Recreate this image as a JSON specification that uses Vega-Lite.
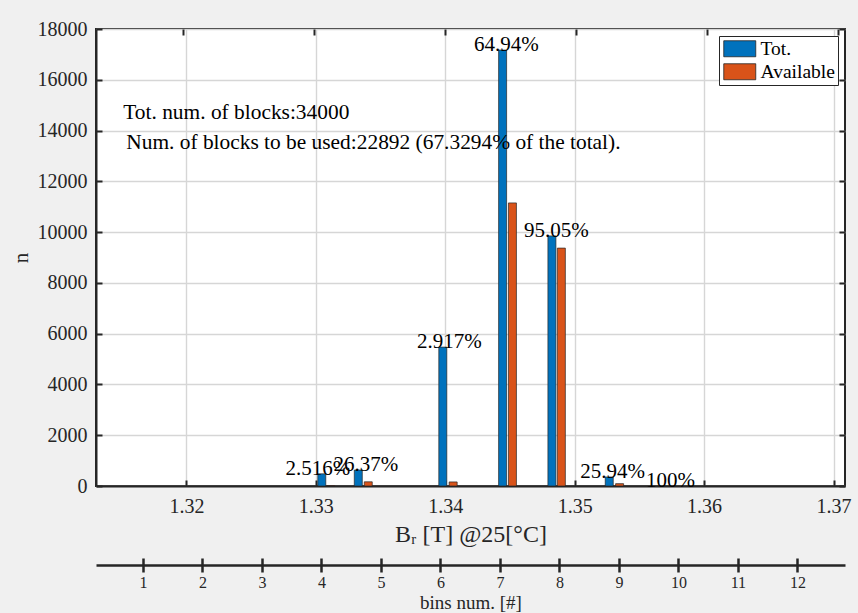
{
  "$schema": "https://vega.github.io/schema/vega-lite/v6.json",
  "width": 749,
  "height": 457,
  "autosize": {"type": "none"},
  "padding": {"left": 96, "top": 29, "right": 13, "bottom": 127},
  "background": "#f0f0f0",
  "config": {
    "font": "Liberation Serif",
    "view": {"fill": "white", "stroke": "#262626", "strokeWidth": 2},
    "axis": {
      "labelFont": "Liberation Serif",
      "titleFont": "Liberation Serif",
      "labelColor": "#262626",
      "titleColor": "#262626",
      "tickColor": "#262626",
      "domainColor": "#262626",
      "titleFontWeight": "normal",
      "gridColor": "#d6d6d6",
      "gridWidth": 1.4
    },
    "legend": {"labelFont": "Liberation Serif"}
  },
  "datasets": {
    "bars": [
      {"B": 1.33046, "series": "Tot.", "n": 480},
      {"B": 1.33328, "series": "Tot.", "n": 630},
      {"B": 1.33981, "series": "Tot.", "n": 5470},
      {"B": 1.34443, "series": "Tot.", "n": 17170},
      {"B": 1.34824, "series": "Tot.", "n": 9850},
      {"B": 1.35267, "series": "Tot.", "n": 355},
      {"B": 1.33115, "series": "Available", "n": 12},
      {"B": 1.33405, "series": "Available", "n": 165},
      {"B": 1.34061, "series": "Available", "n": 160},
      {"B": 1.34519, "series": "Available", "n": 11150},
      {"B": 1.34897, "series": "Available", "n": 9370},
      {"B": 1.35347, "series": "Available", "n": 92}
    ],
    "labels": [
      {"B": 1.33015, "n": 480, "label": "2.516%"},
      {"B": 1.33386, "n": 630, "label": "26.37%"},
      {"B": 1.34031, "n": 5470, "label": "2.917%"},
      {"B": 1.34473, "n": 17170, "label": "64.94%"},
      {"B": 1.34859, "n": 9850, "label": "95.05%"},
      {"B": 1.35294, "n": 355, "label": "25.94%"},
      {"B": 1.3574, "n": 0, "label": "100%"}
    ],
    "notes": [
      {"B": 1.31512, "n": 14691, "text": "Tot. num. of blocks:34000"},
      {"B": 1.31535, "n": 13510, "text": "Num. of blocks to be used:22892 (67.3294% of the total)."}
    ],
    "bins": [
      {"bin": 1}, {"bin": 2}, {"bin": 3}, {"bin": 4}, {"bin": 5}, {"bin": 6},
      {"bin": 7}, {"bin": 8}, {"bin": 9}, {"bin": 10}, {"bin": 11}, {"bin": 12}
    ],
    "frame": [{"B": 1.34, "n": 0}]
  },
  "layer": [
    {
      "layer": [
        {
          "data": {"name": "bars"},
          "mark": {"type": "bar", "width": 8, "stroke": "#262626", "strokeWidth": 0.7},
          "encoding": {
            "x": {
              "field": "B", "type": "quantitative",
              "scale": {"domain": [1.3134, 1.3705], "nice": false, "zero": false},
              "axis": {
                "orient": "bottom",
                "values": [1.32, 1.33, 1.34, 1.35, 1.36, 1.37],
                "format": ".2f",
                "labelFontSize": 20,
                "tickSize": -6,
                "tickWidth": 2,
                "domainWidth": 2,
                "labelPadding": 16,
                "grid": true,
                "title": "Bᵣ [T] @25[°C]",
                "titleFontSize": 24,
                "titlePadding": 6
              }
            },
            "y": {
              "field": "n", "type": "quantitative",
              "scale": {"domain": [0, 18000], "nice": false},
              "axis": {
                "orient": "left",
                "values": [0, 2000, 4000, 6000, 8000, 10000, 12000, 14000, 16000, 18000],
                "format": "d",
                "labelFontSize": 20,
                "tickSize": -6,
                "tickWidth": 2,
                "domainWidth": 2,
                "labelPadding": 15,
                "grid": true,
                "title": "n",
                "titleFontSize": 21,
                "titlePadding": 6
              }
            },
            "color": {
              "field": "series", "type": "nominal",
              "scale": {"domain": ["Tot.", "Available"], "range": ["#0072BD", "#D95319"]},
              "legend": {
                "title": null,
                "orient": "top-right",
                "offset": 7,
                "fillColor": "white",
                "strokeColor": "#262626",
                "padding": 3,
                "rowPadding": 2,
                "labelFontSize": 19.5,
                "labelColor": "#000000",
                "symbolType": "M-2,-1H2V1H-2Z",
                "symbolSize": 256,
                "symbolStrokeColor": "#262626",
                "symbolStrokeWidth": 0.8,
                "symbolOpacity": 1,
                "symbolOffset": 8,
                "labelOffset": 11
              }
            }
          }
        },
        {
          "data": {"name": "labels"},
          "mark": {"type": "text", "fontSize": 21, "color": "#000000", "baseline": "alphabetic", "align": "center", "dy": 1},
          "encoding": {
            "x": {"field": "B", "type": "quantitative"},
            "y": {"field": "n", "type": "quantitative"},
            "text": {"field": "label"}
          }
        },
        {
          "data": {"name": "notes"},
          "mark": {"type": "text", "fontSize": 21.4, "color": "#000000", "baseline": "middle", "align": "left"},
          "encoding": {
            "x": {"field": "B", "type": "quantitative"},
            "y": {"field": "n", "type": "quantitative"},
            "text": {"field": "text"}
          }
        }
      ]
    },
    {
      "data": {"name": "bins"},
      "mark": {"type": "point", "opacity": 0},
      "encoding": {
        "x": {
          "field": "bin", "type": "quantitative",
          "scale": {"domain": [0.21, 12.8], "nice": false, "zero": false},
          "axis": {
            "orient": "bottom",
            "offset": 79,
            "values": [1, 2, 3, 4, 5, 6, 7, 8, 9, 10, 11, 12],
            "format": "d",
            "grid": false,
            "tickSize": 7,
            "tickWidth": 2.5,
            "domainWidth": 2.5,
            "labelFontSize": 16,
            "labelPadding": 2,
            "title": "bins num. [#]",
            "titleFontSize": 19,
            "titlePadding": 3
          }
        }
      }
    },
    {
      "data": {"name": "bins"},
      "mark": {"type": "point", "opacity": 0},
      "encoding": {
        "x": {
          "field": "bin", "type": "quantitative",
          "scale": {"domain": [0.21, 12.8], "nice": false, "zero": false},
          "axis": {
            "orient": "bottom",
            "offset": 79,
            "values": [1, 2, 3, 4, 5, 6, 7, 8, 9, 10, 11, 12],
            "labels": false,
            "domain": false,
            "grid": false,
            "tickSize": -7,
            "tickWidth": 2.5,
            "title": null
          }
        }
      }
    },
    {
      "data": {"name": "frame"},
      "mark": {"type": "point", "opacity": 0},
      "encoding": {
        "x": {
          "field": "B", "type": "quantitative",
          "scale": {"domain": [1.3134, 1.3705], "nice": false, "zero": false},
          "axis": {
            "orient": "top",
            "values": [1.32, 1.33, 1.34, 1.35, 1.36, 1.37],
            "labels": false,
            "domain": false,
            "grid": false,
            "tickSize": -6,
            "tickWidth": 2,
            "title": null
          }
        },
        "y": {
          "field": "n", "type": "quantitative",
          "axis": {
            "orient": "right",
            "values": [0, 2000, 4000, 6000, 8000, 10000, 12000, 14000, 16000, 18000],
            "labels": false,
            "domain": false,
            "grid": false,
            "tickSize": -6,
            "tickWidth": 2,
            "title": null
          }
        }
      }
    }
  ],
  "resolve": {"scale": {"x": "independent"}, "axis": {"y": "independent"}}
}
